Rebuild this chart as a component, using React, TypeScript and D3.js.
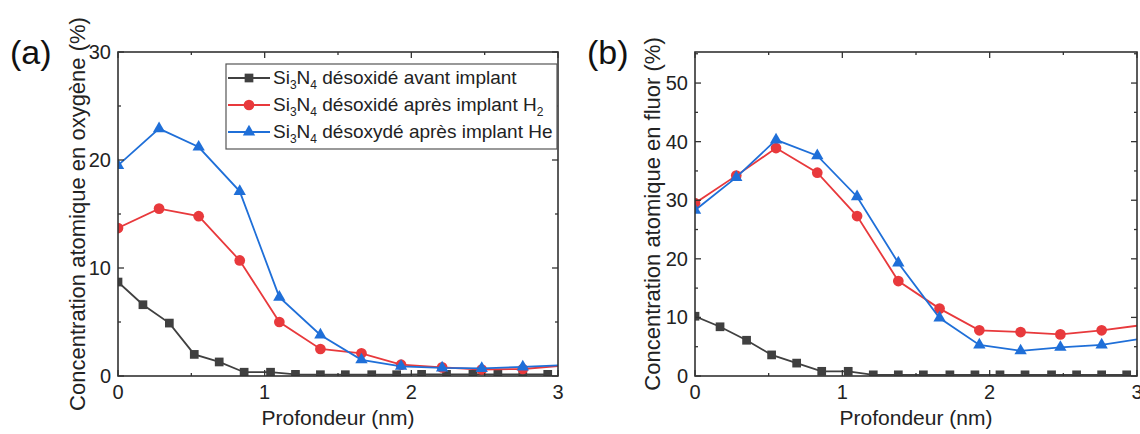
import { useEffect, useRef } from "react";
import * as d3 from "d3";

// depth grids (nm)
const depthFine = [0, 0.17, 0.35, 0.52, 0.69, 0.86, 1.04, 1.21, 1.38, 1.55, 1.73, 1.9, 2.07, 2.24, 2.42, 2.59, 2.76, 2.93];
const depthCoarse = [0, 0.28, 0.55, 0.83, 1.1, 1.38, 1.66, 1.93, 2.21, 2.48, 2.76, 3.04];

// (a) oxygene
const oxyBefore = [8.7, 6.6, 4.9, 2.0, 1.3, 0.35, 0.35, 0.15, 0.12, 0.12, 0.12, 0.12, 0.15, 0.15, 0.15, 0.15, 0.15, 0.15];
const oxyH2 = [13.7, 15.5, 14.8, 10.7, 5.0, 2.5, 2.1, 1.05, 0.8, 0.6, 0.65, 0.95];
const oxyHe = [19.5, 22.9, 21.2, 17.1, 7.3, 3.8, 1.5, 0.9, 0.75, 0.7, 0.85, 1.0];

// (b) fluor
const fluoBefore = [10.2, 8.4, 6.1, 3.6, 2.2, 0.8, 0.8, 0.2, 0.2, 0.2, 0.2, 0.2, 0.2, 0.2, 0.2, 0.2, 0.2, 0.2];
const fluoH2 = [29.5, 34.2, 38.9, 34.7, 27.3, 16.2, 11.5, 7.8, 7.5, 7.1, 7.8, 8.7];
const fluoHe = [28.3, 33.9, 40.3, 37.6, 30.6, 19.3, 9.9, 5.3, 4.3, 4.9, 5.3, 6.4];

const xTicks = [0, 1, 2, 3];
const oxyTicks = [0, 10, 20, 30];
const fluoTicks = [0, 10, 20, 30, 40, 50];

const legendLabels = [
  { main: "désoxidé avant implant", sub: "" },
  { main: "désoxidé après implant H", sub: "2" },
  { main: "désoxydé après implant He", sub: "" },
];

const colors = ["#404040", "#e8393c", "#1f6fd8"];
const symbols = [d3.symbolSquare, d3.symbolCircle, d3.symbolTriangle];
const symbolSizes = [76, 90, 66];

const FONT = "'Liberation Sans', Arial, sans-serif";

interface Panel {
  id: string;
  label: string;
  left: number;
  right: number;
  yMax: number;
  yTicks: number[];
  yTitle: string;
  titleX: number;
  series: { xs: number[]; ys: number[] }[];
  legend: boolean;
}

function drawPanel(root: d3.Selection<SVGSVGElement, unknown, null, undefined>, p: Panel) {
  const top = 52;
  const bottom = 376;

  const x = d3.scaleLinear().domain([0, 3]).range([p.left, p.right]);
  const y = d3.scaleLinear().domain([0, p.yMax]).range([bottom, top]);

  const g = root.append("g");

  g.append("clipPath")
    .attr("id", "clip-" + p.id)
    .append("rect")
    .attr("x", p.left)
    .attr("y", top)
    .attr("width", p.right - p.left)
    .attr("height", bottom - top);

  const data = g.append("g").attr("clip-path", `url(#clip-${p.id})`);

  const line = d3
    .line<[number, number]>()
    .x((d) => x(d[0]))
    .y((d) => y(d[1]));

  p.series.forEach((s, i) => {
    const pts: [number, number][] = s.xs.map((v, k) => [v, s.ys[k]]);
    data
      .append("path")
      .datum(pts)
      .attr("fill", "none")
      .attr("stroke", colors[i])
      .attr("stroke-width", 1.8)
      .attr("d", line);
    data
      .selectAll(null)
      .data(pts)
      .enter()
      .append("path")
      .attr("transform", (d) => `translate(${x(d[0])},${y(d[1])})`)
      .attr("d", d3.symbol().type(symbols[i]).size(symbolSizes[i])())
      .attr("fill", colors[i]);
  });

  // frame + inward ticks
  const axisColor = "#333";
  const minorX = [0.5, 1.5, 2.5];
  const minorY = d3.range(5, p.yMax, 10);

  const ticks = g.append("g").attr("stroke", axisColor).attr("stroke-width", 1.3);
  xTicks.forEach((t) => {
    ticks.append("line").attr("x1", x(t)).attr("x2", x(t)).attr("y1", bottom).attr("y2", bottom - 6);
    ticks.append("line").attr("x1", x(t)).attr("x2", x(t)).attr("y1", top).attr("y2", top + 6);
  });
  minorX.forEach((t) => {
    ticks.append("line").attr("x1", x(t)).attr("x2", x(t)).attr("y1", bottom).attr("y2", bottom - 3);
    ticks.append("line").attr("x1", x(t)).attr("x2", x(t)).attr("y1", top).attr("y2", top + 3);
  });
  p.yTicks.forEach((t) => {
    ticks.append("line").attr("x1", p.left).attr("x2", p.left + 6).attr("y1", y(t)).attr("y2", y(t));
    ticks.append("line").attr("x1", p.right).attr("x2", p.right - 6).attr("y1", y(t)).attr("y2", y(t));
  });
  minorY.forEach((t) => {
    ticks.append("line").attr("x1", p.left).attr("x2", p.left + 3).attr("y1", y(t)).attr("y2", y(t));
    ticks.append("line").attr("x1", p.right).attr("x2", p.right - 3).attr("y1", y(t)).attr("y2", y(t));
  });

  g.append("rect")
    .attr("x", p.left)
    .attr("y", top)
    .attr("width", p.right - p.left)
    .attr("height", bottom - top)
    .attr("fill", "none")
    .attr("stroke", axisColor)
    .attr("stroke-width", 1.6);

  // tick labels
  g.selectAll(null)
    .data(xTicks)
    .enter()
    .append("text")
    .attr("x", (d) => x(d))
    .attr("y", bottom + 23)
    .attr("text-anchor", "middle")
    .attr("font-size", 20)
    .attr("fill", "#222")
    .text((d) => d);

  g.selectAll(null)
    .data(p.yTicks)
    .enter()
    .append("text")
    .attr("x", p.left - 7)
    .attr("y", (d) => y(d) + 7)
    .attr("text-anchor", "end")
    .attr("font-size", 20)
    .attr("fill", "#222")
    .text((d) => d);

  // titles
  g.append("text")
    .attr("x", (p.left + p.right) / 2)
    .attr("y", 425)
    .attr("text-anchor", "middle")
    .attr("font-size", 21)
    .attr("fill", "#222")
    .text("Profondeur (nm)");

  g.append("text")
    .attr("transform", `translate(${p.titleX},${(top + bottom) / 2}) rotate(-90)`)
    .attr("text-anchor", "middle")
    .attr("font-size", 22)
    .attr("fill", "#222")
    .text(p.yTitle);

  g.append("text")
    .attr("x", p.left - 108)
    .attr("y", 64)
    .attr("font-size", 34)
    .attr("fill", "#111")
    .text(p.label);

  if (p.legend) {
    const lx = 226;
    const ly = 64;
    const lg = g.append("g");
    lg.append("rect")
      .attr("x", lx)
      .attr("y", ly)
      .attr("width", 331)
      .attr("height", 85)
      .attr("fill", "white")
      .attr("stroke", "#555")
      .attr("stroke-width", 1.2);
    legendLabels.forEach((l, i) => {
      const cy = ly + 14 + i * 27;
      lg.append("line")
        .attr("x1", lx + 2)
        .attr("x2", lx + 44)
        .attr("y1", cy)
        .attr("y2", cy)
        .attr("stroke", colors[i])
        .attr("stroke-width", 1.8);
      lg.append("path")
        .attr("transform", `translate(${lx + 23},${cy})`)
        .attr("d", d3.symbol().type(symbols[i]).size(symbolSizes[i])())
        .attr("fill", colors[i]);
      const t = lg
        .append("text")
        .attr("x", lx + 47)
        .attr("y", cy + 6)
        .attr("font-size", 19)
        .attr("fill", "#222");
      t.append("tspan").text("Si");
      t.append("tspan").attr("font-size", 12).attr("dy", 5).text("3");
      t.append("tspan").attr("dy", -5).text("N");
      t.append("tspan").attr("font-size", 12).attr("dy", 5).text("4");
      t.append("tspan").attr("dy", -5).text(" " + l.main);
      if (l.sub) {
        t.append("tspan").attr("font-size", 12).attr("dy", 5).text(l.sub);
      }
    });
  }
}

export default function App() {
  const ref = useRef<SVGSVGElement>(null);

  useEffect(() => {
    const svg = d3.select(ref.current!);
    svg.selectAll("*").remove();
    svg.append("rect").attr("width", 1140).attr("height", 434).attr("fill", "white");

    drawPanel(svg, {
      id: "a",
      label: "(a)",
      left: 118,
      right: 558,
      yMax: 30,
      yTicks: oxyTicks,
      yTitle: "Concentration atomique en oxygène (%)",
      titleX: 85,
      series: [
        { xs: depthFine, ys: oxyBefore },
        { xs: depthCoarse, ys: oxyH2 },
        { xs: depthCoarse, ys: oxyHe },
      ],
      legend: true,
    });

    drawPanel(svg, {
      id: "b",
      label: "(b)",
      left: 695,
      right: 1137,
      yMax: 55.3,
      yTicks: fluoTicks,
      yTitle: "Concentration atomique en fluor (%)",
      titleX: 660,
      series: [
        { xs: depthFine, ys: fluoBefore },
        { xs: depthCoarse, ys: fluoH2 },
        { xs: depthCoarse, ys: fluoHe },
      ],
      legend: false,
    });
  }, []);

  return (
    <svg
      ref={ref}
      width={1140}
      height={434}
      style={{ position: "absolute", left: 0, top: 0, fontFamily: FONT }}
    />
  );
}
